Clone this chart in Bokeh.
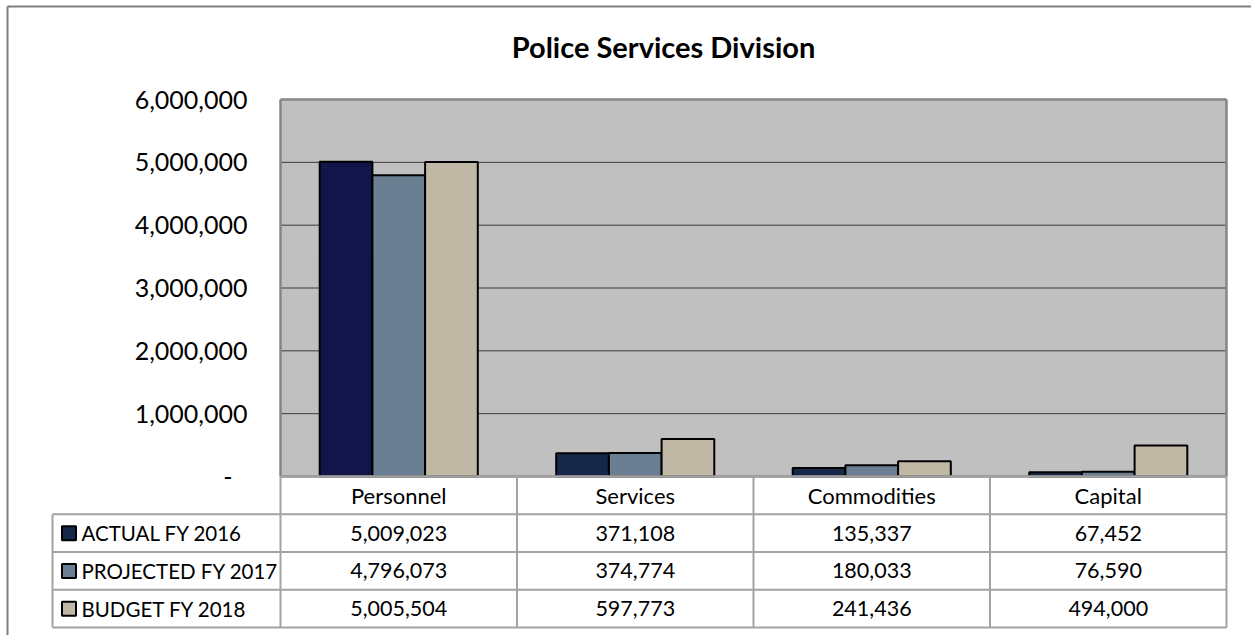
from bokeh.plotting import figure
from bokeh.models import ColumnDataSource, Range1d, Label
from bokeh.core.properties import value
from bokeh.embed import file_html
from bokeh.resources import INLINE

# ---------------- data ----------------
title_text = "Police Services Division"
categories = ["Personnel", "Services", "Commodities", "Capital"]
series = ["ACTUAL FY 2016", "PROJECTED FY 2017", "BUDGET FY 2018"]
actual_fy2016 = [5009023, 371108, 135337, 67452]
projected_fy2017 = [4796073, 374774, 180033, 76590]
budget_fy2018 = [5005504, 597773, 241436, 494000]
y_ticks = [0, 1000000, 2000000, 3000000, 4000000, 5000000, 6000000]

# ---------------- style ----------------
FONT = "Lato"
series_colors = ["#16284a", "#6a7f92", "#c0b7a5"]
personnel_actual_color = "#12154a"
PLOT_BG = "#c0c0c0"
GRID = "#3c3c3c"
BORDER = "#868686"
TABLE_LINE = "#a3a3a3"
OUTER = "#7f7f7f"

# layout geometry in pixels; data origin (0, 0) sits at pixel (280, 476)
CAT_PX = 236.5          # px per category column
Y_PX = 62.83            # px per 1,000,000
UX = 1.0 / CAT_PX
UY = 1e6 / Y_PX
ROW = 37.75 * UY        # table row height
LEG_W = 228 * UX        # legend column width

W, H = 1251, 635
X0, Y0 = 280, 476

def px_x(px):
    return (px - X0) * UX

def px_y(py):
    return (Y0 - py) * UY

p = figure(width=W, height=H, output_backend="svg", toolbar_location=None,
           x_range=Range1d(px_x(0), px_x(W)), y_range=Range1d(px_y(H), px_y(0)),
           min_border_left=0, min_border_right=0, min_border_top=0,
           min_border_bottom=0)
p.axis.visible = False
p.grid.visible = False
p.outline_line_color = None
p.background_fill_color = "white"
p.border_fill_color = "white"

# outer chart border (top and left)
p.segment(x0=[px_x(7), px_x(7)], x1=[px_x(W), px_x(7)],
          y0=[px_y(6), px_y(6)], y1=[px_y(6), px_y(H)],
          line_color=OUTER, line_width=2)

# title
p.add_layout(Label(x=px_x(663), y=px_y(46), text=title_text, text_font=FONT,
                   text_font_size="29px", text_font_style="bold", text_color="black",
                   text_align="center", text_baseline="middle"))

# plot area background
p.quad(left=[0], right=[4], bottom=[0], top=[6e6], fill_color=PLOT_BG, line_color=None)

# gridlines
g = [t for t in y_ticks if 0 < t < 6e6]
p.segment(x0=[0] * len(g), x1=[4] * len(g), y0=g, y1=g, line_color=GRID, line_width=1)

# bars
n = len(categories)
bw = 52.7 * UX
offs = [-bw, 0, bw]
vals = [actual_fy2016, projected_fy2017, budget_fy2018]
for si, (v, off) in enumerate(zip(vals, offs)):
    cols = [series_colors[si]] * n
    if si == 0:
        cols[0] = personnel_actual_color
    src = ColumnDataSource(dict(x=[i + 0.5 + off for i in range(n)], top=v, color=cols))
    p.vbar(x="x", top="top", bottom=0, width=bw, source=src,
           fill_color="color", line_color="black", line_width=2)

# plot area border (top, left, bottom, right)
p.segment(x0=[0, 0, 0, 4], x1=[4, 0, 4, 4], y0=[6e6, 0, 0, 0], y1=[6e6, 6e6, 0, 6e6],
          line_color=BORDER, line_width=2.5)

# y tick labels
def fmt(t):
    return "-" if t == 0 else f"{t:,}"
tick_src = ColumnDataSource(dict(
    x=[-33 * UX] * len(y_ticks), y=y_ticks,
    text=[fmt(t) for t in y_ticks],
    xo=[-15 if t == 0 else 0 for t in y_ticks]))
p.text(x="x", y="y", text="text", x_offset="xo", source=tick_src,
       text_font=value(FONT), text_font_size="25px", text_align="right",
       text_baseline="middle", text_color="black")

# ---------------- data table ----------------
rows_y = [-ROW * k for k in range(5)]
hx0, hx1, hy = [0], [4], [rows_y[0]]
for k in range(1, 5):
    hx0.append(-LEG_W); hx1.append(4); hy.append(rows_y[k])
p.segment(x0=hx0, x1=hx1, y0=hy, y1=hy, line_color=TABLE_LINE, line_width=2)
vx = [0, 1, 2, 3, 4, -LEG_W]
vy0 = [0, 0, 0, 0, 0, rows_y[1]]
p.segment(x0=vx, x1=vx, y0=vy0, y1=[rows_y[4]] * len(vx), line_color=TABLE_LINE, line_width=2)

p.text(x=[i + 0.5 for i in range(n)], y=[-ROW / 2] * n, text=categories,
       text_font=value(FONT), text_font_size="22px", text_align="center",
       text_baseline="middle", text_color="black")
cx, cy, ct = [], [], []
for si, v in enumerate(vals):
    for i in range(n):
        cx.append(i + 0.5)
        cy.append(-ROW * (si + 1.5))
        ct.append(f"{v[i]:,}")
p.text(x=cx, y=cy, text=ct, text_font=value(FONT), text_font_size="21.5px",
       text_align="center", text_baseline="middle", text_color="black")

ly = [-ROW * (si + 1.5) for si in range(len(series))]
p.rect(x=[-LEG_W + 16.5 * UX] * 3, y=ly, width=14, height=14, width_units="screen",
       height_units="screen", fill_color=series_colors, line_color="black", line_width=2)
p.text(x=[-LEG_W + 29 * UX] * 3, y=ly, text=series, text_font=value(FONT),
       text_font_size="20.5px", text_align="left", text_baseline="middle", text_color="black")

open("out.html", "w").write(file_html(p, INLINE))
